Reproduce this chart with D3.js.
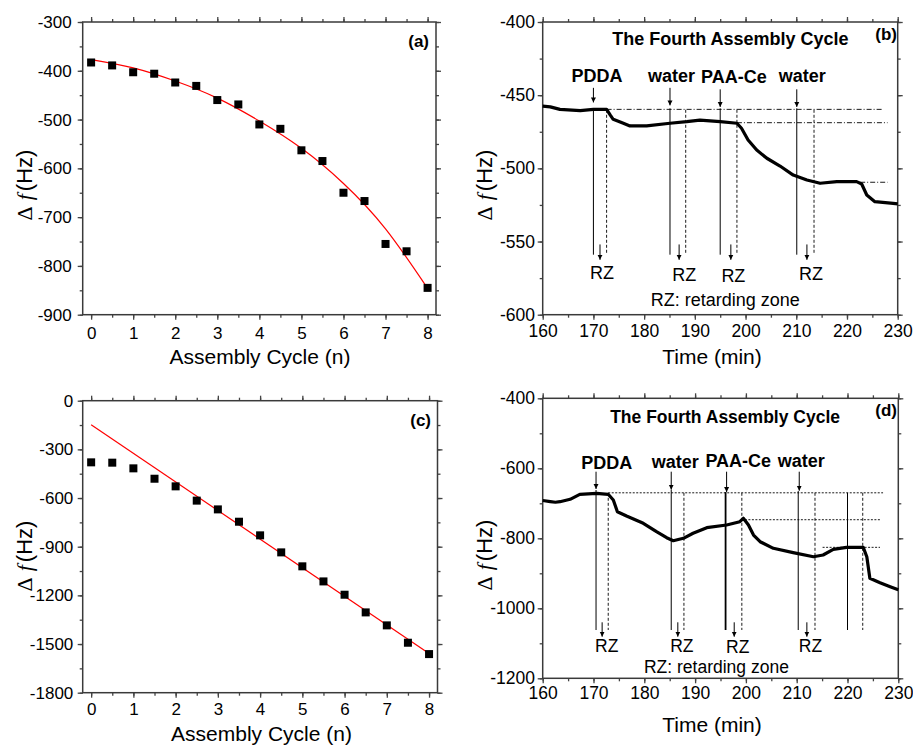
<!DOCTYPE html>
<html><head><meta charset="utf-8">
<script src="https://cdn.jsdelivr.net/npm/d3@7"></script>
<style>
body{margin:0;background:#fff}
svg{display:block}
text{font-family:"Liberation Sans",Arial,sans-serif;fill:#000}
</style>
</head><body>
<svg id="chart" width="913" height="745"></svg>
<script>
// ---------------- DATA ----------------
// (a) frequency shift vs assembly cycle, with fitted curve
const cycleX = [0,0.5,1,1.5,2,2.5,3,3.5,4,4.5,5,5.5,6,6.5,7,7.5,8];
const aShift = [-383,-389,-403,-406,-424,-431,-460,-469,-510,-519,-563,-585,-650,-667,-755,-770,-845];
const aFitX = [0,1,2,3,4,5,6,7,8];
const aFitY = [-377,-394,-421,-456,-503,-559,-631,-724,-846];
const aYTicks = [-900,-800,-700,-600,-500,-400,-300];
const cycleTicks = [0,1,2,3,4,5,6,7,8];

// (c) frequency shift vs assembly cycle, with linear fit
const cShift = [-380,-382,-417,-481,-528,-616,-670,-746,-830,-935,-1021,-1114,-1196,-1305,-1385,-1492,-1562];
const cFitX = [0,8];
const cFitY = [-148,-1558];
const cYTicks = [-1800,-1500,-1200,-900,-600,-300,0];

// (b) time trace, fourth assembly cycle
const bTime = [160,161.5,163.4,167.4,170,172.6,173.3,173.9,175.9,177.2,180.5,185.1,188.4,191,195,198.3,199.2,200.5,202.2,204.2,206.8,209.4,212.1,214.7,218,221.9,222.9,223.9,225.5,229.1,230];
const bShift = [-457.5,-458,-459.7,-460.6,-459.7,-459.7,-463.5,-466.5,-469.2,-471,-471,-469.2,-468.1,-467,-468.1,-469.2,-472.6,-480.6,-487.5,-493.1,-498.4,-504.6,-508,-510.2,-509.1,-509.1,-510.7,-518.2,-522.8,-523.9,-524.3];
const bYTicks = [-600,-550,-500,-450,-400];
// (d) time trace, fourth assembly cycle
const dTime = [160,161.5,162.5,163.4,165.4,167.3,170.6,172.9,173.9,174.7,176.5,179.8,182.4,184.4,185.7,187.7,189.6,192.3,196.2,198.8,199.5,200.5,201.5,202.8,205.4,209.3,213.3,215.2,217.2,219.8,223.1,223.8,224.4,226.4,228.4,230];
const dShift = [-692,-695,-697,-695.4,-688.6,-674.3,-671.5,-674.3,-690.6,-724,-736.3,-757.1,-781.1,-798.3,-806.9,-800,-785.7,-769.7,-762,-752.6,-742.9,-762,-790.6,-809.7,-828.6,-841.1,-852.6,-847.7,-831.5,-825.8,-825.8,-852.6,-914.3,-926.9,-938.3,-947];
const dYTicks = [-1200,-1000,-800,-600,-400];
const timeTicks = [160,170,180,190,200,210,220,230];

// annotations (b)
const eventNames = ["PDDA","water","PAA-Ce","water"];
const bEventT = [170.0,185.1,195.0,210.1];
const bArrowTop = [-445,-445,-446,-446];
const bArrowEnd = [-455,-457,-458,-458];
const bLabelT = [170.7,185.4,197.7,211.2];
const bLabelF = [-440.8,-440.8,-441.5,-440.8];
const bRzT = [172.6,188.2,198.3,213.5];
const bRzArrowT = [171.3,186.9,197.1,212.1];
const bRzLabelT = [171.7,187.9,197.6,212.9];
const bRzLabelF = [-575.8,-576.8,-577.5,-576.3];
const bLevelStart = [172.6,198.3,222.6];
const bLevelEnd = [227.2,228,228];
const bLevelF = [-459.7,-468.8,-509.5];
// annotations (d)
const dEventT = [170.5,185.3,196.0,210.3,220.0];
const dArrowT = [170.5,185.3,196.2,210.5];
const dArrowTop = [-609.7,-609.7,-609.7,-609.7];
const dArrowEnd = [-659,-661,-668,-664];
const dLabelT = [172.6,186.1,198.5,210.9];
const dLabelF = [-602.9,-600,-597,-597];
const dRzT = [172.9,187.8,199.2,213.6,223.0];
const dRzArrowT = [171.7,186.6,197.7,212.0];
const dRzLabelT = [172.6,187.4,198.4,212.7];
const dRzLabelF = [-1124,-1125,-1128,-1124];
const dLevelStart = [172.9,199.8,215.1];
const dLevelEnd = [227.0,226.4,226.4];
const dLevelF = [-670,-746.9,-825.8];

// ---------------- DRAWING ----------------
const svg = d3.select("#chart");
const defs = svg.append("defs");
defs.append("marker").attr("id","arr").attr("viewBox","0 0 10 10")
  .attr("refX",10).attr("refY",5).attr("markerUnits","userSpaceOnUse")
  .attr("markerWidth",5).attr("markerHeight",7).attr("orient","auto")
  .append("path").attr("d","M0,0 L10,5 L0,10 z").attr("fill","#000");

function range(a,b,s){const r=[];for(let v=a;v<=b+1e-9;v+=s)r.push(+v.toFixed(6));return r;}

function panel(o){
  const g = svg.append("g");
  const x = d3.scaleLinear().domain(o.xd).range([o.l,o.r]);
  const y = d3.scaleLinear().domain(o.yd).range([o.b,o.t]);
  const fmt = d=>String(d);
  const axDefs = [
    [d3.axisBottom, x, `translate(0,${o.b})`, true, o.xMajor, o.xMinor, o.xPad],
    [d3.axisTop, x, `translate(0,${o.t})`, false, o.xMajor, o.xMinor, 0],
    [d3.axisLeft, y, `translate(${o.l},0)`, true, o.yMajor, o.yMinor, o.yPad],
    [d3.axisRight, y, `translate(${o.r},0)`, false, o.yMajor, o.yMinor, 0]
  ];
  axDefs.forEach(([fn,sc,tr,lab,maj,min,pad])=>{
    const a1 = g.append("g").attr("transform",tr)
      .call(fn(sc).tickValues(min).tickSize(3).tickFormat(""));
    a1.select(".domain").remove();
    const a2 = g.append("g").attr("transform",tr)
      .call(fn(sc).tickValues(maj).tickSize(5).tickPadding(pad).tickFormat(lab?fmt:""));
    a2.select(".domain").remove();
    [a1,a2].forEach(a=>a.selectAll("line").attr("stroke","#444").attr("stroke-width",1.3));
    a2.selectAll("text").attr("font-size",o.tickFs).attr("font-family",'"Liberation Sans",Arial,sans-serif').attr("fill","#000");
  });
  g.append("rect").attr("x",o.l).attr("y",o.t).attr("width",o.r-o.l).attr("height",o.b-o.t)
    .attr("fill","none").attr("stroke","#3a3a3a").attr("stroke-width",1.5);
  // axis titles
  g.append("text").attr("x",o.xtX).attr("y",o.xtY).attr("text-anchor","middle")
    .attr("font-size",21).text(o.xTitle);
  const yt = g.append("text").attr("transform",`translate(${o.ytX},${o.ytY}) rotate(-90)`)
    .attr("text-anchor","middle").attr("font-size",22);
  yt.append("tspan").attr("font-family",'"Liberation Serif","DejaVu Serif",serif').text("\u0394");
  yt.append("tspan").attr("font-family",'"Liberation Serif","DejaVu Serif",serif').attr("font-style","italic").attr("dx",6).text("f");
  yt.append("tspan").attr("dx",3).text("(Hz)");
  // panel letter
  g.append("text").attr("x",o.pX).attr("y",o.pY).attr("text-anchor","end")
    .attr("font-size",17).attr("font-weight","bold").text(o.letter);
  return {g,x,y};
}

// ---- (a)
{
  const P = panel({l:82.7,r:436,t:22,b:314.7,xd:[-0.2,8.2],yd:[-900,-300],
    xMajor:cycleTicks,xMinor:range(0,8,0.5),yMajor:aYTicks,yMinor:range(-900,-300,50),
    xPad:7,yPad:6,tickFs:17,xTitle:"Assembly Cycle (n)",xtX:260,xtY:364,ytX:32,ytY:185,
    pX:429,pY:46.5,letter:"(a)"});
  P.g.append("path").datum(aFitX.map((v,i)=>[v,aFitY[i]]))
    .attr("d",d3.line().x(d=>P.x(d[0])).y(d=>P.y(d[1])).curve(d3.curveNatural))
    .attr("fill","none").attr("stroke","#ff0000").attr("stroke-width",1.2);
  P.g.selectAll("rect.pt").data(cycleX).enter().append("rect").attr("class","pt")
    .attr("x",(d)=>P.x(d)-4).attr("y",(d,i)=>P.y(aShift[i])-4).attr("width",8).attr("height",8).attr("fill","#000");
}
// ---- (c)
{
  const P = panel({l:82.7,r:437.5,t:400.7,b:692.7,xd:[-0.2,8.2],yd:[-1800,0],
    xMajor:cycleTicks,xMinor:range(0,8,0.5),yMajor:cYTicks,yMinor:range(-1800,0,150),
    xPad:5.6,yPad:4.4,tickFs:17,xTitle:"Assembly Cycle (n)",xtX:261.5,xtY:741,ytX:32,ytY:556,
    pX:431,pY:425.7,letter:"(c)"});
  P.g.append("path").datum(cFitX.map((v,i)=>[v,cFitY[i]]))
    .attr("d",d3.line().x(d=>P.x(d[0])).y(d=>P.y(d[1])))
    .attr("fill","none").attr("stroke","#ff0000").attr("stroke-width",1.2);
  P.g.selectAll("rect.pt").data(cycleX).enter().append("rect").attr("class","pt")
    .attr("x",(d)=>P.x(d)-4).attr("y",(d,i)=>P.y(cShift[i])-4).attr("width",8).attr("height",8).attr("fill","#000");
}

function traceAnnot(P, a){
  const g = P.g, x=P.x, y=P.y;
  // horizontal reference levels
  a.levelStart.forEach((s,i)=>{
    g.append("line").attr("x1",x(s)).attr("x2",x(a.levelEnd[i])).attr("y1",y(a.levelF[i])).attr("y2",y(a.levelF[i]))
      .attr("stroke","#000").attr("stroke-width",0.9).attr("stroke-dasharray",a.hDash);
  });
  // solid event lines
  a.eventT.forEach((t,i)=>{
    g.append("line").attr("x1",x(t)).attr("x2",x(t)).attr("y1",y(a.solidTop[i])).attr("y2",y(a.vBottom))
      .attr("stroke","#000").attr("stroke-width",a.solidW[i]);
  });
  // dashed retarding-zone lines
  a.rzT.forEach(t=>{
    g.append("line").attr("x1",x(t)).attr("x2",x(t)).attr("y1",y(a.rzTop)).attr("y2",y(a.vBottom))
      .attr("stroke","#000").attr("stroke-width",0.9).attr("stroke-dasharray","3,2");
  });
  // trace
  g.append("path").datum(a.time.map((t,i)=>[t,a.shift[i]]))
    .attr("d",d3.line().x(d=>x(d[0])).y(d=>y(d[1])))
    .attr("fill","none").attr("stroke","#000").attr("stroke-width",3.2).attr("stroke-linejoin","round");
  // event arrows and labels
  a.arrowT.forEach((t,i)=>{
    g.append("line").attr("x1",x(t)).attr("x2",x(t)).attr("y1",y(a.arrowTop[i])).attr("y2",y(a.arrowEnd[i]))
      .attr("stroke","#000").attr("stroke-width",1).attr("marker-end","url(#arr)");
  });
  eventNames.forEach((n,i)=>{
    g.append("text").attr("x",x(a.labelT[i])).attr("y",y(a.labelF[i])).attr("text-anchor","middle")
      .attr("font-size",18).attr("font-weight","bold").text(n);
  });
  // RZ arrows and labels
  a.rzArrowT.forEach(t=>{
    g.append("line").attr("x1",x(t)).attr("x2",x(t)).attr("y1",y(a.rzArrowTop)).attr("y2",y(a.rzArrowEnd))
      .attr("stroke","#000").attr("stroke-width",1).attr("marker-end","url(#arr)");
  });
  a.rzLabelT.forEach((t,i)=>{
    g.append("text").attr("x",x(t)).attr("y",y(a.rzLabelF[i])).attr("text-anchor","middle")
      .attr("font-size",a.rzFs).text("RZ");
  });
  g.append("text").attr("x",x(a.noteT)).attr("y",y(a.noteF)).attr("text-anchor","middle")
    .attr("font-size",a.rzFs).text("RZ: retarding zone");
  g.append("text").attr("x",x(a.titleT)).attr("y",y(a.titleF)).attr("text-anchor","middle")
    .attr("font-size",a.titleFs).attr("font-weight","bold").text("The Fourth Assembly Cycle");
}

// ---- (b)
{
  const P = panel({l:542.7,r:897.7,t:22,b:314.7,xd:[160,230],yd:[-600,-400],
    xMajor:timeTicks,xMinor:range(160,230,5),yMajor:bYTicks,yMinor:range(-600,-400,25),
    xPad:5.3,yPad:2.7,tickFs:17.5,xTitle:"Time (min)",xtX:712,xtY:364,ytX:492,ytY:185,
    pX:897,pY:39.7,letter:"(b)"});
  traceAnnot(P,{time:bTime,shift:bShift,levelStart:bLevelStart,levelEnd:bLevelEnd,levelF:bLevelF,
    hDash:"5,2,1,2",eventT:bEventT,solidTop:[-459,-459,-459,-459],solidW:[1,1,1,1],vBottom:-559,
    rzT:bRzT,rzTop:-460,arrowT:bEventT,arrowTop:bArrowTop,arrowEnd:bArrowEnd,labelT:bLabelT,labelF:bLabelF,
    rzArrowT:bRzArrowT,rzArrowTop:-552,rzArrowEnd:-562.5,rzLabelT:bRzLabelT,rzLabelF:bRzLabelF,rzFs:18,
    noteT:196.0,noteF:-594,titleT:197,titleF:-416,titleFs:18});
}
// ---- (d)
{
  const P = panel({l:542.7,r:898.3,t:398.3,b:678.3,xd:[160,230],yd:[-1200,-400],
    xMajor:timeTicks,xMinor:range(160,230,5),yMajor:dYTicks,yMinor:range(-1200,-400,100),
    xPad:3.4,yPad:2.7,tickFs:17.5,xTitle:"Time (min)",xtX:712,xtY:732,ytX:491.5,ytY:555,
    pX:897,pY:416.4,letter:"(d)"});
  traceAnnot(P,{time:dTime,shift:dShift,levelStart:dLevelStart,levelEnd:dLevelEnd,levelF:dLevelF,
    hDash:"2,1.5",eventT:dEventT,solidTop:[-662,-662,-668,-665,-670],solidW:[1,1,1.8,1,1],vBottom:-1062,
    rzT:dRzT,rzTop:-670,arrowT:dArrowT,arrowTop:dArrowTop,arrowEnd:dArrowEnd,labelT:dLabelT,labelF:dLabelF,
    rzArrowT:dRzArrowT,rzArrowTop:-1040,rzArrowEnd:-1081,rzLabelT:dRzLabelT,rzLabelF:dRzLabelF,rzFs:17.5,
    noteT:194.2,noteF:-1184,titleT:195.9,titleF:-469.7,titleFs:17.5});
}
</script>
</body></html>
